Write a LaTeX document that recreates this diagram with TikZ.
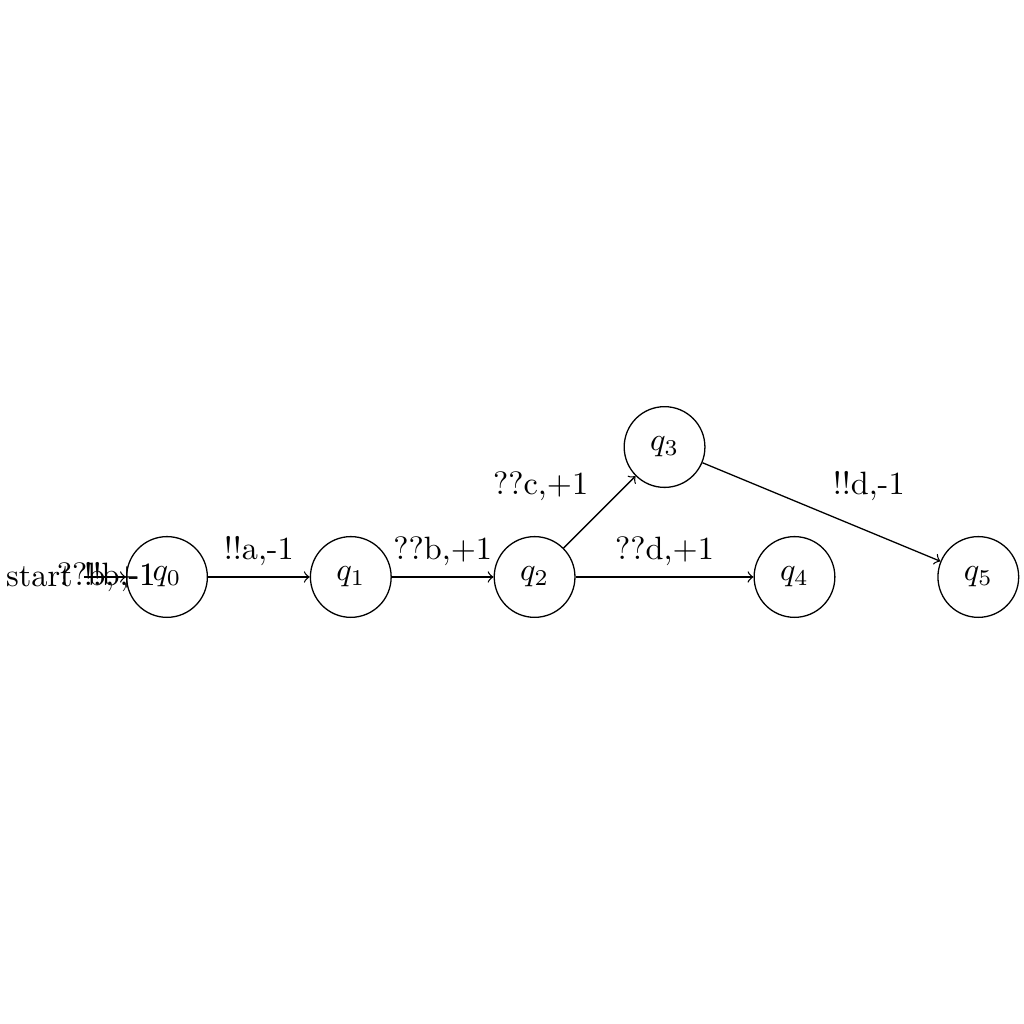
\documentclass[tikz,border=0pt]{standalone}
\usetikzlibrary{automata,positioning}
\begin{document}
\begin{tikzpicture}[->, auto, every state/.style={draw, circle, minimum size=2.5em, inner sep=2pt}]
\useasboundingbox (-1.817,-4.864) rectangle (9.323,6.278);
\node[state, initial, initial text=start] (q0) at (0,0) {$q_0$};
\node[state] (q1) at (2,0) {$q_1$};
\node[state] (q2) at (4,0) {$q_2$};
\node[state] (q3) at (5.414,1.414) {$q_3$};
\node[state] (q4) at (6.828,0) {$q_4$};
\node[state] (q5) at (8.828,0) {$q_5$};
\path (q0) edge node {!!a,-1} (q1)
      (q1) edge node {??b,+1} (q2)
      (q2) edge node {??c,+1} (q3)
      (q2) edge node {??d,+1} (q4)
      (q3) edge node {!!d,-1} (q5);
\node[anchor=east] (l1) at (q0.center) {??b,+1};
\node[anchor=east] (l2) at (q0.center) {!!b,-1};
\end{tikzpicture}
\end{document}
